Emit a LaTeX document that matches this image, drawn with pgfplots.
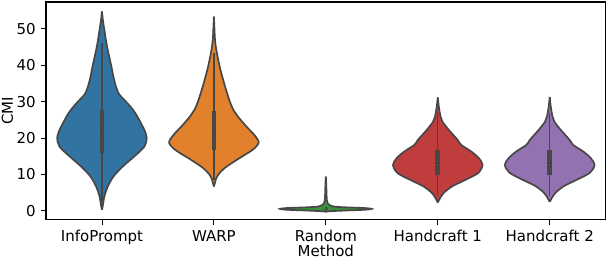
\documentclass[border=0pt]{standalone}
\usepackage{fontspec}
\setmainfont{DejaVu Sans}
\usepackage{pgfplots}
\pgfplotsset{compat=1.18}
\usepgfplotslibrary{fillbetween}
\usepackage{pgfplotstable}

\definecolor{c0}{HTML}{3274A1}
\definecolor{c1}{HTML}{E1812C}
\definecolor{c2}{HTML}{3A923A}
\definecolor{c3}{HTML}{C03D3E}
\definecolor{c4}{HTML}{9372B2}
\definecolor{edge}{HTML}{474747}

% half-width profiles (y, half width in category units)
\pgfplotstableread{
y w
0.3 0
1.5 0.008
4.0 0.022
6.7 0.052
9.5 0.104
12.2 0.186
15.0 0.29
17.7 0.38
20.0 0.40
21.8 0.385
23.6 0.357
26.8 0.30
28.8 0.25
30.5 0.20
32.0 0.155
33.7 0.13
36.5 0.105
39.6 0.085
42.0 0.068
44.2 0.052
47.0 0.035
49.7 0.022
52.0 0.01
54.8 0
}\profInfo

\pgfplotstableread{
y w
6.7 0
8.0 0.012
8.7 0.018
10.0 0.04
11.8 0.097
14.1 0.208
16.8 0.347
18.8 0.40
20.9 0.36
23.2 0.29
25.9 0.215
28.0 0.17
30.5 0.137
35.0 0.092
39.6 0.052
44.2 0.022
47.0 0.01
50.0 0.005
53.4 0
}\profWarp

\pgfplotstableread{
y w
-0.25 0
-0.1 0.03
0.1 0.17
0.3 0.34
0.55 0.41
0.8 0.34
1.0 0.16
1.2 0.07
1.5 0.04
1.8 0.025
2.2 0.015
3.0 0.009
5.0 0.006
7.0 0.004
9.4 0
}\profRand

\pgfplotstableread{
y w
2.3 0
3.5 0.02
4.9 0.052
6.7 0.126
8.5 0.245
10.4 0.36
12.6 0.40
14.5 0.367
16.3 0.30
18.1 0.21
19.2 0.185
20.0 0.164
22.3 0.097
24.5 0.042
25.9 0.025
28.5 0.01
31.2 0
}\profHandA

\pgfplotstableread{
y w
2.5 0
3.6 0.02
5.0 0.052
6.8 0.126
8.6 0.245
10.5 0.36
12.6 0.40
14.5 0.367
16.3 0.30
18.1 0.21
19.2 0.185
20.0 0.164
22.3 0.097
24.5 0.042
25.9 0.025
28.5 0.01
31.3 0
}\profHandB

% center, profile, fill colour, whisker lo, whisker hi, Q1, Q3, median
\newcommand{\violin}[8]{%
  \addplot[name path=R#1, edge, line width=1.7bp, smooth] table[x expr=#1+\thisrow{w}, y=y] {#2};
  \addplot[name path=L#1, edge, line width=1.7bp, smooth] table[x expr=#1-\thisrow{w}, y=y] {#2};
  \addplot[fill=#3, draw=none] fill between[of=R#1 and L#1];
  \addplot[edge, line width=1.4bp] coordinates {(#1,#4) (#1,#5)};
  \addplot[edge, line width=4.6bp] coordinates {(#1,#6) (#1,#7)};
  \addplot[only marks, mark=*, mark size=1.1bp, fill=white, draw=none] coordinates {(#1,#8)};
}

\begin{document}
\fontsize{15bp}{18bp}\selectfont
\begin{tikzpicture}
\begin{axis}[
  set layers,
  width=560bp, height=218bp, scale only axis,
  xmin=-0.5, xmax=4.5, ymin=-2.47, ymax=57.4,
  xtick={0,1,2,3,4},
  xticklabels={InfoPrompt,WARP,Random,Handcraft 1,Handcraft 2},
  ytick={0,10,20,30,40,50},
  xtick pos=bottom, ytick pos=left,
  tick align=outside, major tick length=5bp,
  tick style={black, line width=0.9bp},
  axis line style={black, line width=1.1bp},
  /pgf/number format/assume math mode=true,
  tick label style={font=\fontsize{15bp}{18bp}\selectfont},
  label style={font=\fontsize{15bp}{18bp}\selectfont},
  xlabel={Method}, ylabel={CMI},
  xlabel style={at={([yshift=-31.5bp]axis description cs:0.5,0)}, anchor=center},
  ylabel style={at={([xshift=-38.5bp]axis description cs:0,0.5)}, anchor=center},
]
\violin{0}{\profInfo}{c0}{1.5}{46}{16.0}{27.7}{21.3}
\violin{1}{\profWarp}{c1}{8.5}{43.5}{16.8}{27.5}{21.1}
\violin{2}{\profRand}{c2}{0.1}{1.2}{0.4}{0.75}{0.55}
\violin{3}{\profHandA}{c3}{4.0}{27.0}{9.9}{16.8}{12.8}
\violin{4}{\profHandB}{c4}{4.2}{27.0}{9.9}{16.8}{12.8}
\coordinate (sw) at (rel axis cs:0,0);
\coordinate (ne) at (rel axis cs:1,1);
\end{axis}
\pgfresetboundingbox
\useasboundingbox ([shift={(-46bp,-40bp)}]sw) rectangle ([shift={(2.3bp,2bp)}]ne);
\end{tikzpicture}
\end{document}
